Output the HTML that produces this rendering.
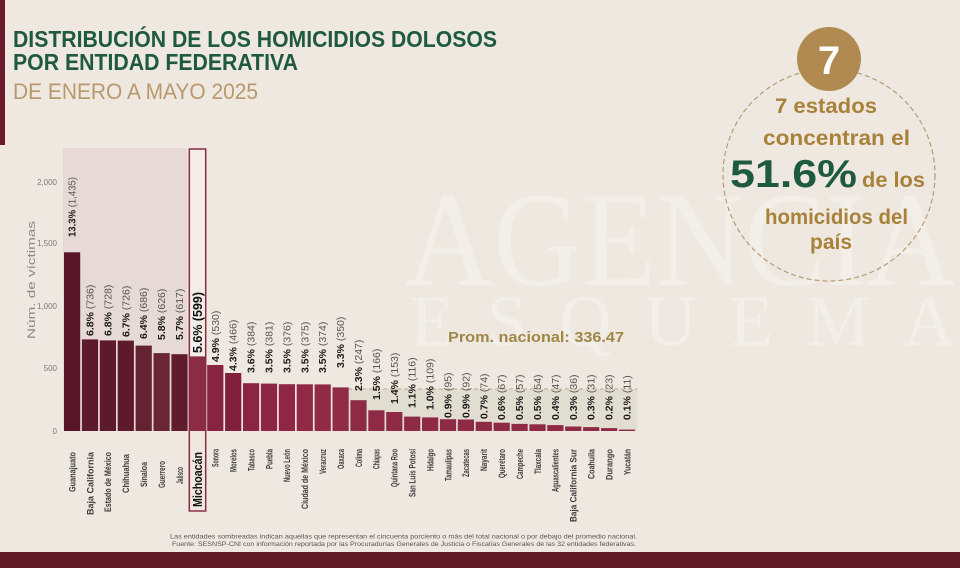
<!DOCTYPE html>
<html><head><meta charset="utf-8"><style>
html,body{margin:0;padding:0;background:#eee8e0;}
svg{display:block;}
text{font-family:"Liberation Sans",sans-serif;}
</style></head><body>
<svg width="960" height="568" viewBox="0 0 960 568" xmlns="http://www.w3.org/2000/svg">
<rect x="0" y="0" width="960" height="568" fill="#eee8e0"/>
<!-- watermark -->
<g fill="#ffffff" opacity="0.28" font-family="Liberation Serif, serif">
<text x="405" y="285" font-size="135" textLength="550" lengthAdjust="spacingAndGlyphs" style="font-family:'Liberation Serif',serif">AGENCIA</text>
<text x="410" y="345" font-size="72" textLength="545" lengthAdjust="spacing" style="font-family:'Liberation Serif',serif">ESQUEMA</text>
</g>
<!-- left strip & bottom band -->
<rect x="0" y="0" width="5" height="145" fill="#6a1a2b"/>
<rect x="0" y="552" width="960" height="16" fill="#5f1b28"/>
<!-- Title -->
<text x="13" y="47" font-size="23.5" font-weight="bold" fill="#1f5a40" textLength="484" lengthAdjust="spacingAndGlyphs">DISTRIBUCIÓN DE LOS HOMICIDIOS DOLOSOS</text>
<text x="13" y="70" font-size="23.5" font-weight="bold" fill="#1f5a40" textLength="285" lengthAdjust="spacingAndGlyphs">POR ENTIDAD FEDERATIVA</text>
<text x="13" y="99" font-size="22" fill="#b9996c" textLength="245" lengthAdjust="spacingAndGlyphs">DE ENERO A MAYO 2025</text>
<!-- Right circle -->
<circle cx="829" cy="175" r="106" fill="none" stroke="#b59c74" stroke-width="1.2" stroke-dasharray="5,3"/>
<circle cx="829" cy="59" r="32" fill="#b08a50"/>
<text x="829" y="74" font-size="40" font-weight="bold" fill="#ffffff" text-anchor="middle">7</text>
<g font-weight="bold" fill="#a9823a">
<text x="775" y="113" font-size="21" textLength="102" lengthAdjust="spacingAndGlyphs">7 estados</text>
<text x="763" y="145" font-size="21" textLength="147" lengthAdjust="spacingAndGlyphs">concentran el</text>
<text x="862" y="187" font-size="21" textLength="63" lengthAdjust="spacingAndGlyphs">de los</text>
<text x="765" y="224" font-size="21" textLength="143" lengthAdjust="spacingAndGlyphs">homicidios del</text>
<text x="810" y="249" font-size="21" textLength="42" lengthAdjust="spacingAndGlyphs">país</text>
</g>
<text x="730" y="187" font-size="39" font-weight="bold" fill="#1d5a3e" textLength="127" lengthAdjust="spacingAndGlyphs">51.6%</text>
<!-- shaded regions -->
<rect x="63" y="148" width="124" height="283" fill="#e7d9d5"/>
<rect x="189" y="149" width="17" height="282" fill="#f2ede8"/>
<rect x="348" y="389" width="289" height="42" fill="#e2ddd1"/>
<line x1="348" y1="389" x2="637" y2="389" stroke="#b3ab95" stroke-width="1" stroke-dasharray="4,3"/>
<!-- y axis -->
<g font-size="8" fill="#7a7a7a" text-anchor="end">
<text x="57" y="185">2,000</text>
<text x="57" y="246">1,500</text>
<text x="57" y="309">1,000</text>
<text x="57" y="371">500</text>
<text x="57" y="434">0</text>
</g>
<text transform="translate(35,280) rotate(-90)" font-size="11" fill="#888" text-anchor="middle" textLength="118" lengthAdjust="spacingAndGlyphs">Núm. de víctimas</text>
<!-- bars -->
<g>
<rect x="64" y="252.3" width="16.2" height="178.7" fill="#581528"/>
<rect x="81.9" y="339.4" width="16.2" height="91.6" fill="#5e1a2d"/>
<rect x="99.8" y="340.4" width="16.2" height="90.6" fill="#5e1a2d"/>
<rect x="117.7" y="340.6" width="16.2" height="90.4" fill="#5e1a2d"/>
<rect x="135.6" y="345.6" width="16.2" height="85.4" fill="#652233"/>
<rect x="153.5" y="353.1" width="16.2" height="77.9" fill="#6a2637"/>
<rect x="171.4" y="354.2" width="16.2" height="76.8" fill="#601c2f"/>
<rect x="189.3" y="356.4" width="16.2" height="74.6" fill="#8c2b46"/>
<rect x="207.2" y="365" width="16.2" height="66" fill="#872442"/>
<rect x="225.1" y="373" width="16.2" height="58" fill="#80203d"/>
<rect x="243" y="383.2" width="16.2" height="47.8" fill="#8c2443"/>
<rect x="260.9" y="383.6" width="16.2" height="47.4" fill="#8e2544"/>
<rect x="278.8" y="384.2" width="16.2" height="46.8" fill="#8f2645"/>
<rect x="296.7" y="384.3" width="16.2" height="46.7" fill="#902846"/>
<rect x="314.6" y="384.4" width="16.2" height="46.6" fill="#912a47"/>
<rect x="332.5" y="387.4" width="16.2" height="43.6" fill="#922b48"/>
<rect x="350.4" y="400.2" width="16.2" height="30.8" fill="#8e2a46"/>
<rect x="368.3" y="410.3" width="16.2" height="20.7" fill="#8e2a46"/>
<rect x="386.2" y="412" width="16.2" height="19" fill="#8e2a46"/>
<rect x="404.1" y="416.6" width="16.2" height="14.4" fill="#8e2a46"/>
<rect x="422" y="417.4" width="16.2" height="13.6" fill="#8e2a46"/>
<rect x="439.9" y="419.2" width="16.2" height="11.8" fill="#8e2a46"/>
<rect x="457.8" y="419.5" width="16.2" height="11.5" fill="#8e2a46"/>
<rect x="475.7" y="421.8" width="16.2" height="9.2" fill="#8e2a46"/>
<rect x="493.6" y="422.7" width="16.2" height="8.3" fill="#8e2a46"/>
<rect x="511.5" y="423.9" width="16.2" height="7.1" fill="#8e2a46"/>
<rect x="529.4" y="424.3" width="16.2" height="6.7" fill="#8e2a46"/>
<rect x="547.3" y="425.1" width="16.2" height="5.9" fill="#8e2a46"/>
<rect x="565.2" y="426.5" width="16.2" height="4.5" fill="#8e2a46"/>
<rect x="583.1" y="427.1" width="16.2" height="3.9" fill="#8e2a46"/>
<rect x="601" y="428.1" width="16.2" height="2.9" fill="#8e2a46"/>
<rect x="618.9" y="429.6" width="16.2" height="1.4" fill="#8e2a46"/>
</g>
<!-- Michoacán box -->
<rect x="189.3" y="149" width="16.4" height="362" fill="none" stroke="#8a2d40" stroke-width="1.5"/>
<!-- prom nacional -->
<text x="448" y="342" font-size="15" font-weight="bold" fill="#9f8746" textLength="176" lengthAdjust="spacingAndGlyphs">Prom. nacional: 336.47</text>
<!-- bar labels -->
<g font-size="10.5" fill="#1a1a1a">
<text transform="translate(75.6,237) rotate(-90)" textLength="60" lengthAdjust="spacingAndGlyphs"><tspan font-weight="bold">13.3%</tspan><tspan fill="#555"> (1,435)</tspan></text>
<text transform="translate(93.5,336) rotate(-90)"><tspan font-weight="bold">6.8%</tspan><tspan fill="#555"> (736)</tspan></text>
<text transform="translate(111.4,336) rotate(-90)"><tspan font-weight="bold">6.8%</tspan><tspan fill="#555"> (728)</tspan></text>
<text transform="translate(129.3,337) rotate(-90)"><tspan font-weight="bold">6.7%</tspan><tspan fill="#555"> (726)</tspan></text>
<text transform="translate(147.2,339) rotate(-90)"><tspan font-weight="bold">6.4%</tspan><tspan fill="#555"> (686)</tspan></text>
<text transform="translate(165.1,340) rotate(-90)"><tspan font-weight="bold">5.8%</tspan><tspan fill="#555"> (626)</tspan></text>
<text transform="translate(183,340) rotate(-90)"><tspan font-weight="bold">5.7%</tspan><tspan fill="#555"> (617)</tspan></text>
<text transform="translate(202.2,353) rotate(-90)" font-size="13" font-weight="bold" fill="#111" textLength="61" lengthAdjust="spacingAndGlyphs">5.6% (599)</text>
<text transform="translate(218.8,362) rotate(-90)"><tspan font-weight="bold">4.9%</tspan><tspan fill="#555"> (530)</tspan></text>
<text transform="translate(236.7,371) rotate(-90)"><tspan font-weight="bold">4.3%</tspan><tspan fill="#555"> (466)</tspan></text>
<text transform="translate(254.6,373) rotate(-90)"><tspan font-weight="bold">3.6%</tspan><tspan fill="#555"> (384)</tspan></text>
<text transform="translate(272.5,373) rotate(-90)"><tspan font-weight="bold">3.5%</tspan><tspan fill="#555"> (381)</tspan></text>
<text transform="translate(290.4,373) rotate(-90)"><tspan font-weight="bold">3.5%</tspan><tspan fill="#555"> (376)</tspan></text>
<text transform="translate(308.3,373) rotate(-90)"><tspan font-weight="bold">3.5%</tspan><tspan fill="#555"> (375)</tspan></text>
<text transform="translate(326.2,373) rotate(-90)"><tspan font-weight="bold">3.5%</tspan><tspan fill="#555"> (374)</tspan></text>
<text transform="translate(344.1,368) rotate(-90)"><tspan font-weight="bold">3.3%</tspan><tspan fill="#555"> (350)</tspan></text>
<text transform="translate(362,391) rotate(-90)"><tspan font-weight="bold">2.3%</tspan><tspan fill="#555"> (247)</tspan></text>
<text transform="translate(379.9,400) rotate(-90)"><tspan font-weight="bold">1.5%</tspan><tspan fill="#555"> (166)</tspan></text>
<text transform="translate(397.8,404) rotate(-90)"><tspan font-weight="bold">1.4%</tspan><tspan fill="#555"> (153)</tspan></text>
<text transform="translate(415.7,408) rotate(-90)"><tspan font-weight="bold">1.1%</tspan><tspan fill="#555"> (116)</tspan></text>
<text transform="translate(433.6,410) rotate(-90)"><tspan font-weight="bold">1.0%</tspan><tspan fill="#555"> (109)</tspan></text>
<text transform="translate(451.5,418) rotate(-90)"><tspan font-weight="bold">0.9%</tspan><tspan fill="#555"> (95)</tspan></text>
<text transform="translate(469.4,418) rotate(-90)"><tspan font-weight="bold">0.9%</tspan><tspan fill="#555"> (92)</tspan></text>
<text transform="translate(487.3,419) rotate(-90)"><tspan font-weight="bold">0.7%</tspan><tspan fill="#555"> (74)</tspan></text>
<text transform="translate(505.2,420) rotate(-90)"><tspan font-weight="bold">0.6%</tspan><tspan fill="#555"> (67)</tspan></text>
<text transform="translate(523.1,420) rotate(-90)"><tspan font-weight="bold">0.5%</tspan><tspan fill="#555"> (57)</tspan></text>
<text transform="translate(541,420) rotate(-90)"><tspan font-weight="bold">0.5%</tspan><tspan fill="#555"> (54)</tspan></text>
<text transform="translate(558.9,420) rotate(-90)"><tspan font-weight="bold">0.4%</tspan><tspan fill="#555"> (47)</tspan></text>
<text transform="translate(576.8,420) rotate(-90)"><tspan font-weight="bold">0.3%</tspan><tspan fill="#555"> (36)</tspan></text>
<text transform="translate(594.7,420) rotate(-90)"><tspan font-weight="bold">0.3%</tspan><tspan fill="#555"> (31)</tspan></text>
<text transform="translate(612.6,420) rotate(-90)"><tspan font-weight="bold">0.2%</tspan><tspan fill="#555"> (23)</tspan></text>
<text transform="translate(630.5,420) rotate(-90)"><tspan font-weight="bold">0.1%</tspan><tspan fill="#555"> (11)</tspan></text>
</g>
<!-- x labels -->
<g font-size="9.5" font-weight="bold" fill="#3d3d3d" text-anchor="end">
<text transform="translate(75.4,452) rotate(-90)" textLength="40" lengthAdjust="spacingAndGlyphs">Guanajuato</text>
<text transform="translate(93.3,452) rotate(-90)" textLength="63" lengthAdjust="spacingAndGlyphs">Baja California</text>
<text transform="translate(111.2,452) rotate(-90)" textLength="60" lengthAdjust="spacingAndGlyphs">Estado de México</text>
<text transform="translate(129.1,454) rotate(-90)" textLength="39" lengthAdjust="spacingAndGlyphs">Chihuahua</text>
<text transform="translate(147,462) rotate(-90)" textLength="25" lengthAdjust="spacingAndGlyphs">Sinaloa</text>
<text transform="translate(164.9,461) rotate(-90)" textLength="27" lengthAdjust="spacingAndGlyphs">Guerrero</text>
<text transform="translate(182.8,467) rotate(-90)" textLength="17" lengthAdjust="spacingAndGlyphs">Jalisco</text>
<text transform="translate(202,452) rotate(-90)" font-size="12.5" fill="#111" textLength="55" lengthAdjust="spacingAndGlyphs">Michoacán</text>
<text transform="translate(218.6,449) rotate(-90)" textLength="18" lengthAdjust="spacingAndGlyphs">Sonora</text>
<text transform="translate(236.5,449) rotate(-90)" textLength="23" lengthAdjust="spacingAndGlyphs">Morelos</text>
<text transform="translate(254.4,449) rotate(-90)" textLength="22" lengthAdjust="spacingAndGlyphs">Tabasco</text>
<text transform="translate(272.3,449) rotate(-90)" textLength="20" lengthAdjust="spacingAndGlyphs">Puebla</text>
<text transform="translate(290.2,449) rotate(-90)" textLength="33" lengthAdjust="spacingAndGlyphs">Nuevo León</text>
<text transform="translate(308.1,449) rotate(-90)" textLength="60" lengthAdjust="spacingAndGlyphs">Ciudad de México</text>
<text transform="translate(326,449) rotate(-90)" textLength="25" lengthAdjust="spacingAndGlyphs">Veracruz</text>
<text transform="translate(343.9,449) rotate(-90)" textLength="20" lengthAdjust="spacingAndGlyphs">Oaxaca</text>
<text transform="translate(361.8,449) rotate(-90)" textLength="18" lengthAdjust="spacingAndGlyphs">Colima</text>
<text transform="translate(379.7,449) rotate(-90)" textLength="20" lengthAdjust="spacingAndGlyphs">Chiapas</text>
<text transform="translate(397.6,449) rotate(-90)" textLength="38" lengthAdjust="spacingAndGlyphs">Quintana Roo</text>
<text transform="translate(415.5,449) rotate(-90)" textLength="48" lengthAdjust="spacingAndGlyphs">San Luis Potosí</text>
<text transform="translate(433.4,449) rotate(-90)" textLength="22" lengthAdjust="spacingAndGlyphs">Hidalgo</text>
<text transform="translate(451.3,449) rotate(-90)" textLength="32" lengthAdjust="spacingAndGlyphs">Tamaulipas</text>
<text transform="translate(469.2,449) rotate(-90)" textLength="28" lengthAdjust="spacingAndGlyphs">Zacatecas</text>
<text transform="translate(487.1,449) rotate(-90)" textLength="22" lengthAdjust="spacingAndGlyphs">Nayarit</text>
<text transform="translate(505,449) rotate(-90)" textLength="29" lengthAdjust="spacingAndGlyphs">Querétaro</text>
<text transform="translate(522.9,449) rotate(-90)" textLength="30" lengthAdjust="spacingAndGlyphs">Campeche</text>
<text transform="translate(540.8,449) rotate(-90)" textLength="25" lengthAdjust="spacingAndGlyphs">Tlaxcala</text>
<text transform="translate(558.7,449) rotate(-90)" textLength="43" lengthAdjust="spacingAndGlyphs">Aguascalientes</text>
<text transform="translate(576.6,449) rotate(-90)" textLength="73" lengthAdjust="spacingAndGlyphs">Baja California Sur</text>
<text transform="translate(594.5,449) rotate(-90)" textLength="30" lengthAdjust="spacingAndGlyphs">Coahuila</text>
<text transform="translate(612.4,449) rotate(-90)" textLength="31" lengthAdjust="spacingAndGlyphs">Durango</text>
<text transform="translate(630.3,449) rotate(-90)" textLength="26" lengthAdjust="spacingAndGlyphs">Yucatán</text>
</g>
<!-- footer -->
<g font-size="6" fill="#555">
<text x="170" y="538.5" textLength="467" lengthAdjust="spacingAndGlyphs">Las entidades sombreadas indican aquellas que representan el cincuenta porciento o más del total nacional o por debajo del promedio nacional.</text>
<text x="172" y="546" textLength="464" lengthAdjust="spacingAndGlyphs">Fuente: SESNSP-CNI con información reportada por las Procuradurías Generales de Justicia o Fiscalías Generales de las 32 entidades federativas.</text>
</g>
</svg>
</body></html>
